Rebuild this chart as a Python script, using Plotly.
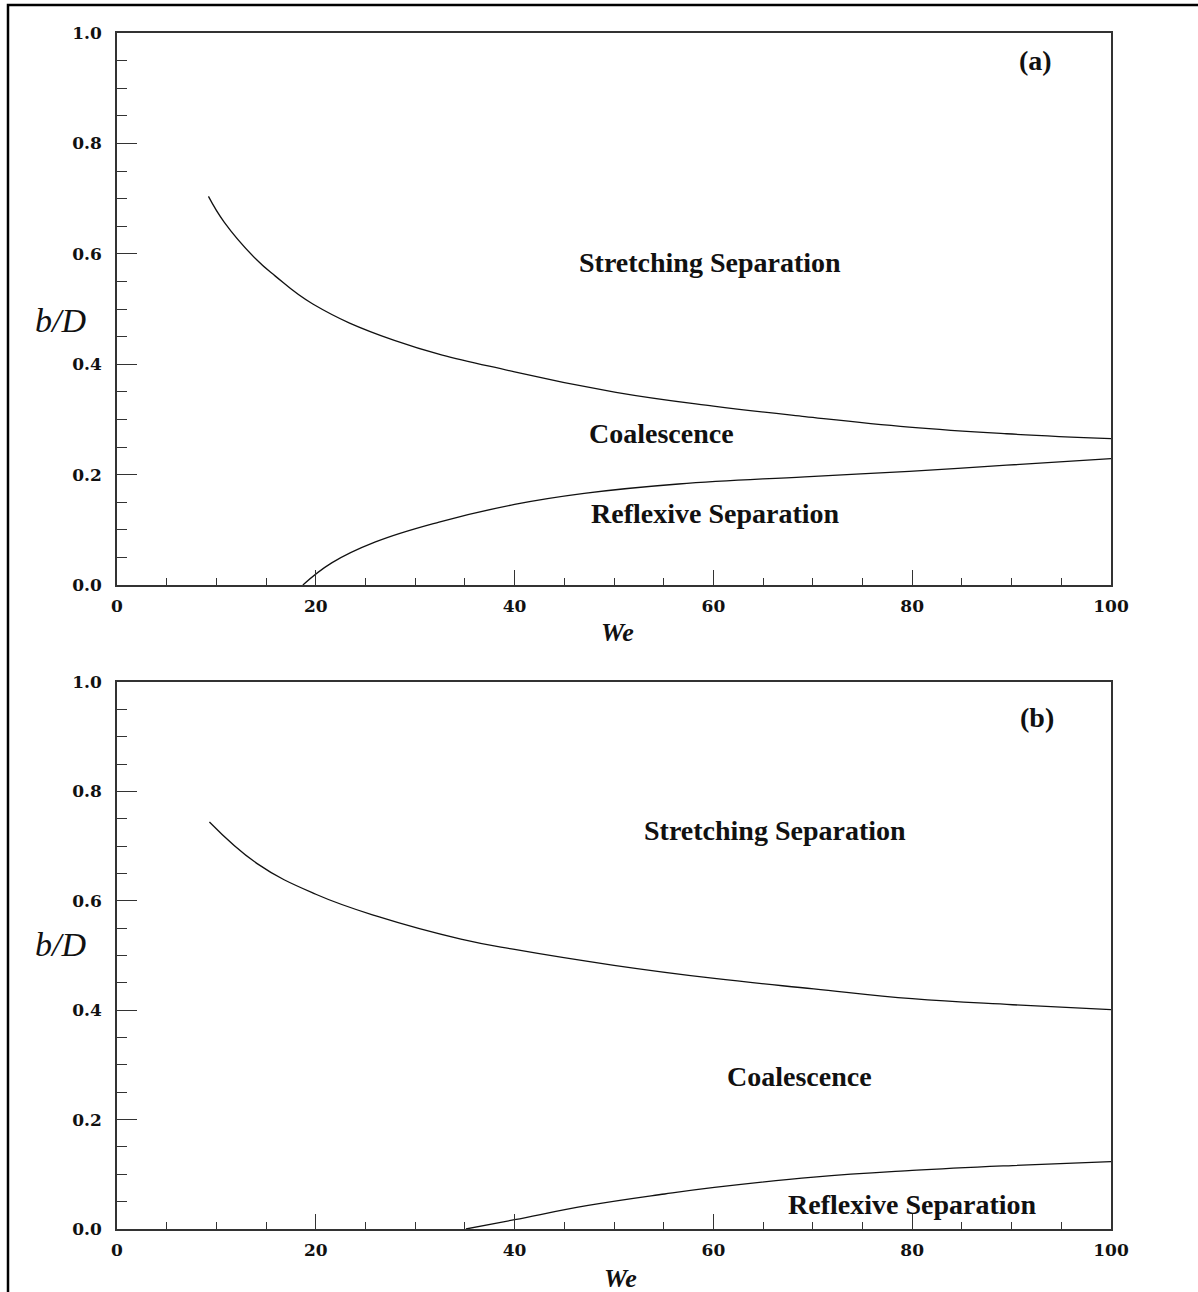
import plotly.graph_objects as go
from plotly.subplots import make_subplots

# ---- data ----
# Panel (a)
we_a_upper = [9.2, 10.8, 14.0, 15.9, 19.7, 27.9, 40.0, 50.2, 60.0, 69.2, 79.7, 89.5, 100.0]
bd_a_upper = [0.704, 0.657, 0.590, 0.560, 0.509, 0.443, 0.386, 0.349, 0.324, 0.305, 0.286, 0.274, 0.265]
we_a_lower = [18.7, 21.6, 26.0, 32.4, 40.0, 47.0, 56.5, 69.2, 79.7, 89.5, 100.0]
bd_a_lower = [0.0, 0.040, 0.078, 0.114, 0.146, 0.166, 0.183, 0.196, 0.206, 0.217, 0.229]

# Panel (b)
we_b_upper = [9.3, 14.1, 20.0, 26.3, 34.6, 40.0, 50.0, 60.1, 70.1, 80.0, 90.1, 100.0]
bd_b_upper = [0.744, 0.668, 0.612, 0.571, 0.530, 0.511, 0.482, 0.458, 0.439, 0.421, 0.410, 0.401]
we_b_lower = [35.1, 40.0, 47.4, 55.1, 60.1, 70.1, 80.0, 90.1, 100.0]
bd_b_lower = [0.0, 0.017, 0.043, 0.064, 0.076, 0.095, 0.107, 0.116, 0.123]

region_labels = ["Stretching Separation", "Coalescence", "Reflexive Separation"]
label_pos_a = [(59.7, 0.585), (54.8, 0.275), (60.2, 0.130)]
label_pos_b = [(66.2, 0.729), (68.7, 0.278), (80.0, 0.044)]
panel_tags = ["(a)", "(b)"]
tag_pos = [(92.4, 0.951), (92.6, 0.936)]
x_tick_vals = [0, 20, 40, 60, 80, 100]
y_tick_vals = [0.0, 0.2, 0.4, 0.6, 0.8, 1.0]
y_tick_text = ["0.0", "0.2", "0.4", "0.6", "0.8", "1.0"]

W, H = 1198, 1292
L, R, T, B = 117, W - 1111, 33, H - 1229
plot_h = H - T - B

def py2paper(py):
    return (1229 - py) / plot_h

def px2paper(px):
    return (px - L) / (W - L - R)

fig = make_subplots(rows=2, cols=1)

line_style = dict(color="#111111", width=1.3, shape="spline", smoothing=1.2)
fig.add_trace(go.Scatter(x=we_a_upper, y=bd_a_upper, mode="lines", line=line_style, showlegend=False), row=1, col=1)
fig.add_trace(go.Scatter(x=we_a_lower, y=bd_a_lower, mode="lines", line=line_style, showlegend=False), row=1, col=1)
fig.add_trace(go.Scatter(x=we_b_upper, y=bd_b_upper, mode="lines", line=line_style, showlegend=False), row=2, col=1)
fig.add_trace(go.Scatter(x=we_b_lower, y=bd_b_lower, mode="lines", line=line_style, showlegend=False), row=2, col=1)

tick_font = dict(family="DejaVu Serif", size=17, color="#111111", weight="bold")
axis_common = dict(
    showline=True, linecolor="#333333", linewidth=1.5, mirror=True,
    showgrid=False, zeroline=False, ticks="inside", tickcolor="#333333",
    tickfont=tick_font,
)

domains = {1: [py2paper(585), 1.0], 2: [0.0, py2paper(682)]}
for r in (1, 2):
    xa = "xaxis" if r == 1 else "xaxis2"
    ya = "yaxis" if r == 1 else "yaxis2"
    fig.layout[xa].update(
        range=[0, 100], tickvals=x_tick_vals, ticklen=15, tickwidth=1.2,
        minor=dict(ticks="inside", dtick=5, ticklen=7, tickcolor="#333333", tickwidth=1),
        ticklabelstandoff=5, domain=[0, 1], **axis_common)
    fig.layout[ya].update(
        range=[0, 1], tickvals=y_tick_vals, ticktext=y_tick_text, ticklen=20, tickwidth=1.2,
        minor=dict(ticks="inside", dtick=0.05, ticklen=10, tickcolor="#333333", tickwidth=1),
        ticklabelstandoff=10, domain=domains[r], **axis_common)

label_font = dict(family="Liberation Serif", size=28, color="#111111", weight="bold")
for (xref, yref, positions, tag, tp) in [("x", "y", label_pos_a, panel_tags[0], tag_pos[0]),
                                         ("x2", "y2", label_pos_b, panel_tags[1], tag_pos[1])]:
    for txt, (xv, yv) in zip(region_labels, positions):
        fig.add_annotation(x=xv, y=yv, xref=xref, yref=yref, text=txt, showarrow=False,
                           font=label_font, xanchor="center", yanchor="middle")
    fig.add_annotation(x=tp[0], y=tp[1], xref=xref, yref=yref, text=tag, showarrow=False,
                       font=label_font, xanchor="center", yanchor="middle")

ylab_font = dict(family="Liberation Serif", size=34, color="#111111", style="italic")
xlab_font = dict(family="Liberation Serif", size=26, color="#111111", style="italic", weight="bold")
for py in (320, 945):
    fig.add_annotation(x=px2paper(60), y=py2paper(py), xref="paper", yref="paper", text="b/D",
                       showarrow=False, font=ylab_font, xanchor="center", yanchor="middle")
for px, py in ((617, 632), (620, 1278)):
    fig.add_annotation(x=px2paper(px), y=py2paper(py), xref="paper", yref="paper", text="We",
                       showarrow=False, font=xlab_font, xanchor="center", yanchor="middle")

# outer frame (left and top edges visible)
fig.add_shape(type="rect", xref="paper", yref="paper",
              x0=px2paper(8), x1=px2paper(1210), y0=py2paper(1300), y1=py2paper(5),
              line=dict(color="#000000", width=2.5))

fig.update_layout(
    width=W, height=H,
    margin=dict(l=L, r=R, t=T, b=B),
    paper_bgcolor="white", plot_bgcolor="white",
    showlegend=False,
)

fig.write_html("out.html")
